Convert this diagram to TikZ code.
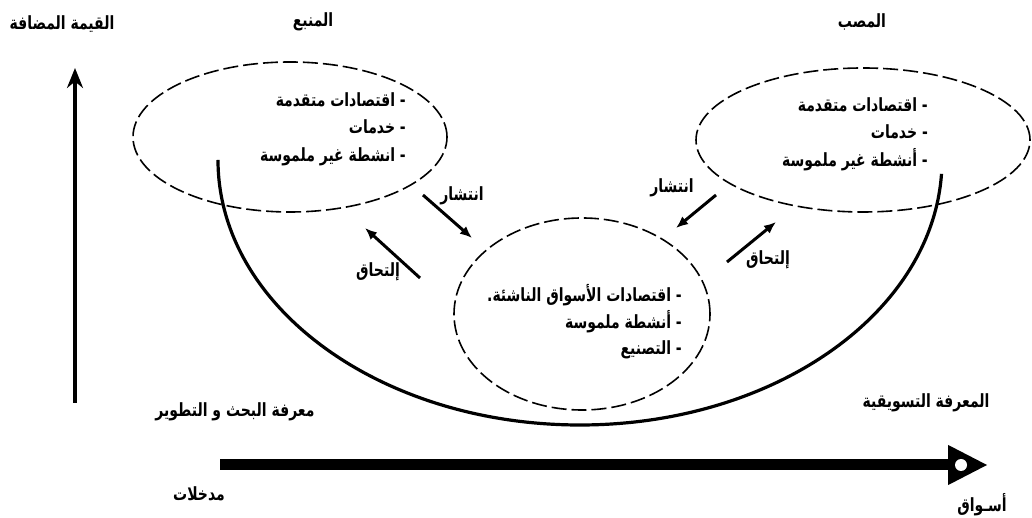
\documentclass[tikz,border=0pt]{standalone}
\usepackage{fontspec}
\usepackage{graphicx}
\usetikzlibrary{positioning}
\usetikzlibrary{shapes.geometric}
\usetikzlibrary{arrows.meta}
\newfontfamily\arabicfont[Script=Arabic]{DejaVu Sans}
\TeXXeTstate=1
\newcommand{\rl}[1]{\scalebox{1}[1.3]{\beginR #1\endR}}

\begin{document}
\begin{tikzpicture}[x=1pt, y=1pt,
  lbl/.style={font=\arabicfont\bfseries\fontsize{14}{16}\selectfont, inner sep=0pt},
  lst/.style={lbl, align=right, anchor=east, font=\arabicfont\bfseries\fontsize{14}{27.5}\selectfont},
  zone/.style={draw, ellipse, line width=1.6pt, dash pattern=on 15pt off 5pt},
  arr/.style={-{Latex[length=12pt,width=10pt]}, line width=3pt}]

\useasboundingbox (0,0) rectangle (1032,518);

\node (VA) at (62,494) [lbl] {\rl{القيمة المضافة}};
\node (SRC) at (313,496) [lbl] {\rl{المنبع}};
\node (MTH) at (862,496) [lbl] {\rl{المصب}};

\coordinate (VA0) at (75,115);
\coordinate (VA1) at (75,450);
\draw[-{Stealth[length=20pt,width=16pt]}, line width=4.5pt] (VA0) -- (VA1);

\node (L) at (290,381) [zone, minimum width=314pt, minimum height=150pt] {};
\node (R) at (863,378) [zone, minimum width=334pt, minimum height=144pt] {};
\node (M) at (582,204) [zone, minimum width=256pt, minimum height=192pt] {};

\node (Ltxt) at (406,389) [lst] {\rl{- اقتصادات متقدمة}\\ \rl{- خدمات}\\ \rl{- انشطة غير ملموسة}};
\node (Rtxt) at (928,384) [lst] {\rl{- اقتصادات متقدمة}\\ \rl{- خدمات}\\ \rl{- أنشطة غير ملموسة}};
\node (Mtxt) at (682,196) [lst, font=\arabicfont\bfseries\fontsize{14}{26.5}\selectfont] {\rl{- اقتصادات الأسواق الناشئة.}\\ \rl{- أنشطة ملموسة}\\ \rl{- التصنيع}};

\coordinate (uL) at (218,358);
\draw[line width=3.2pt] (uL) arc[start angle=180, end angle=357, x radius=362, y radius=265];

\coordinate (ls0) at (423,323);
\coordinate (ls1) at (472,280);
\coordinate (lj0) at (420,240);
\coordinate (lj1) at (365,290);
\coordinate (rs0) at (716,323);
\coordinate (rs1) at (676,290);
\coordinate (rj0) at (727,256);
\coordinate (rj1) at (776,296);

\path[arr] (ls0) edge (ls1);
\path[arr] (lj0) edge (lj1);
\path[arr] (rs0) edge (rs1);
\path[arr] (rj0) edge (rj1);

\node (lsL) at (462,322) [lbl] {\rl{انتشار}};
\node (ljL) at (378,246) [lbl] {\rl{إلتحاق}};
\node (rsL) at (672,330) [lbl] {\rl{انتشار}};
\node (rjL) at (768,258) [lbl] {\rl{إلتحاق}};

\node (RD) at (235,106) [lbl] {\rl{معرفة البحث و التطوير}};
\node (MK) at (926,115) [lbl] {\rl{المعرفة التسويقية}};

\coordinate (hA0) at (220,53);
\coordinate (hA1) at (988,53);
\draw[-{Triangle[length=40pt,width=37pt]}, line width=11pt] (hA0) -- (hA1);
\fill[white] (961,53) circle (6);

\node (IN) at (199,24) [lbl] {\rl{مدخلات}};
\node (MKT) at (982,13) [lbl] {\rl{أسـواق}};
\end{tikzpicture}
\end{document}
